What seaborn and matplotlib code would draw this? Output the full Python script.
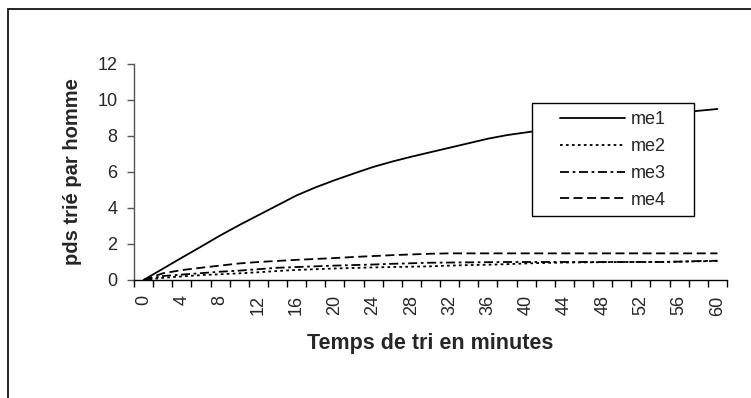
import matplotlib
matplotlib.use('Agg')
import matplotlib.pyplot as plt
from matplotlib.patches import Rectangle
from matplotlib.ticker import FixedLocator
import seaborn as sns
import pandas as pd

# temps de tri (minutes) et poids trié par homme pour chaque méthode
minutes = list(range(0, 61, 2))
me1 = [0, 0.62, 1.24, 1.85, 2.47, 3.05, 3.6, 4.15, 4.7, 5.15, 5.55, 5.92, 6.28, 6.58, 6.85, 7.1,
       7.35, 7.6, 7.85, 8.05, 8.2, 8.35, 8.5, 8.65, 8.8, 8.9, 9.0, 9.15, 9.3, 9.4, 9.5]
me2 = [0, 0.12, 0.2, 0.27, 0.32, 0.37, 0.43, 0.5, 0.56, 0.6, 0.64, 0.67, 0.7, 0.72, 0.74, 0.76,
       0.8, 0.83, 0.85, 0.88, 0.92, 0.95, 0.97, 0.98, 0.99, 1.0, 1.0, 1.0, 1.02, 1.04, 1.05]
me3 = [0, 0.22, 0.3, 0.38, 0.46, 0.52, 0.6, 0.68, 0.72, 0.76, 0.8, 0.83, 0.86, 0.9, 0.93, 0.96,
       0.97, 0.98, 0.99, 1.0, 1.0, 1.0, 1.0, 1.0, 1.0, 1.0, 1.0, 1.0, 1.02, 1.05, 1.07]
me4 = [0, 0.37, 0.55, 0.68, 0.8, 0.92, 1.0, 1.06, 1.12, 1.17, 1.22, 1.28, 1.33, 1.38, 1.42, 1.46,
       1.48, 1.48, 1.48, 1.48, 1.48, 1.48, 1.48, 1.48, 1.48, 1.48, 1.48, 1.48, 1.48, 1.48, 1.48]
series = ['me1', 'me2', 'me3', 'me4']

df = pd.DataFrame({
    'minutes': minutes * 4,
    'pds': me1 + me2 + me3 + me4,
    'serie': [s for s in series for _ in minutes],
})

sns.set_style('white')
plt.rcParams['font.family'] = ['Liberation Sans', 'DejaVu Sans']

W, H = 751, 398
fig = plt.figure(figsize=(W / 100, H / 100), dpi=100)
ax = fig.add_axes([134 / W, 1 - 280 / H, (727 - 134) / W, 216 / H])

dashes = {'me1': '', 'me2': (1.5, 1.8), 'me3': (5, 2, 1.5, 2), 'me4': (5, 2.5)}
sns.lineplot(data=df, x='minutes', y='pds', style='serie', dashes=dashes,
             color='black', linewidth=1.3, ax=ax)

ax.set_xlim(-1, 61)
ax.set_ylim(0, 12)
ax.set_yticks(range(0, 13, 2))
ax.set_xticks(range(0, 61, 4))
ax.xaxis.set_minor_locator(FixedLocator(range(-1, 62, 2)))
ax.tick_params(axis='x', which='major', length=0, labelrotation=90, labelsize=13, pad=11)
ax.tick_params(axis='x', which='minor', length=5, width=1, color='black', direction='out', bottom=True)
ax.tick_params(axis='y', which='major', length=5, width=1, color='#555555', direction='out',
               left=True, labelsize=13, pad=7)

for side in ['top', 'right']:
    ax.spines[side].set_visible(False)
ax.spines['left'].set_color('#555555')
ax.spines['bottom'].set_color('black')
ax.spines['left'].set_linewidth(1)
ax.spines['bottom'].set_linewidth(1)

ax.set_xlabel('Temps de tri en minutes', fontsize=15.5, fontweight='bold', va='center')
ax.set_ylabel('pds trié par homme', fontsize=14.5, fontweight='bold', va='center')
ax.xaxis.set_label_coords(0.5, (280 - 343) / 216)
ax.yaxis.set_label_coords((73 - 134) / 593, 0.5)

# légende : cadre blanc dessiné à part
ax.add_patch(Rectangle((532 / W, 1 - 216 / H), 162 / W, 113 / H, transform=fig.transFigure,
                       facecolor='white', edgecolor='black', linewidth=1, zorder=4, clip_on=False))
handles, labels = ax.get_legend_handles_labels()
leg = ax.legend(handles, labels, loc='upper left', bbox_to_anchor=(560 / W, 1 - 111 / H),
                bbox_transform=fig.transFigure, frameon=False, fontsize=13,
                handlelength=3.6, handletextpad=0.3, labelspacing=0.55, borderpad=0,
                borderaxespad=0)
leg.set_zorder(5)

# cadre extérieur du graphique
fig.patches.append(Rectangle((8 / W, -0.1), 1.2, 1.1 - 9 / H, transform=fig.transFigure,
                             facecolor='none', edgecolor='black', linewidth=1.2))

plt.savefig('out.png', dpi=100)
